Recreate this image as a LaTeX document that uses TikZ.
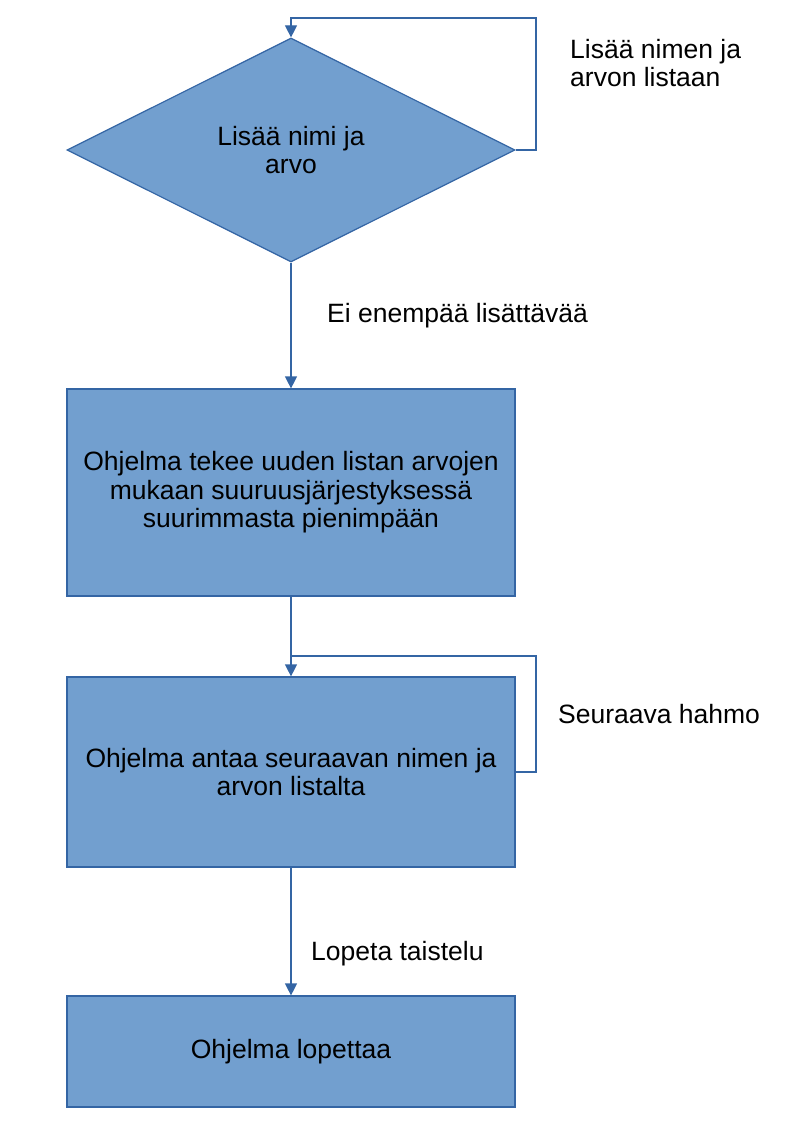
\documentclass[tikz,border=0pt]{standalone}
\usepackage{fontspec}
\setmainfont{Liberation Sans}
\usetikzlibrary{shapes.geometric,arrows.meta}
\definecolor{boxfill}{HTML}{729FCF}
\definecolor{boxline}{HTML}{3465A4}
\begin{document}
\begin{tikzpicture}[x=1pt,y=-1pt,
  every node/.style={font=\fontsize{26.5}{28.5}\selectfont, text=black},
  procbox/.style={draw=boxline, fill=boxfill, line width=1.2pt, minimum width=448pt, inner sep=0pt, align=center},
  decbox/.style={draw=boxline, fill=boxfill, line width=1.2pt, shape=diamond, aspect=2, minimum width=448pt, minimum height=224pt, inner sep=0pt, align=center},
  conn/.style={draw=boxline, line width=1.2pt},
  arr/.style={conn, -{Triangle[width=12pt,length=12pt]}},
  lbl/.style={inner sep=0pt, align=left}]
\useasboundingbox (0,0) rectangle (794,1123);
\node[decbox] (d) at (291,150) {Lisää nimi ja\\arvo};
\node[procbox, minimum height=207pt] (b1) at (291,492.5) {Ohjelma tekee uuden listan arvojen\\mukaan suuruusjärjestyksessä\\suurimmasta pienimpään};
\node[procbox, minimum height=190pt] (b2) at (291,772) {Ohjelma antaa seuraavan nimen ja\\arvon listalta};
\node[procbox, minimum height=111pt] (b3) at (291,1051.5) {Ohjelma lopettaa};
\coordinate (c1) at (536,18);
\coordinate (c2) at (536,656);
\draw[arr] (d.east) -| (c1) -| (d.north);
\draw[arr] (d.south) -- (b1.north);
\draw[arr] (b1.south) -- (b2.north);
\draw[conn] (b2.east) -| (c2) -- (b1.south |- c2);
\draw[arr] (b2.south) -- (b3.north);
\node[lbl, anchor=west] (l1) at (570,63) {Lisää nimen ja\\arvon listaan};
\node[lbl, anchor=base west] (l2) at (327,322) {Ei enempää lisättävää};
\node[lbl, anchor=base west] (l3) at (558,723) {Seuraava hahmo};
\node[lbl, anchor=base west] (l4) at (311,960) {Lopeta taistelu};
\end{tikzpicture}
\end{document}
